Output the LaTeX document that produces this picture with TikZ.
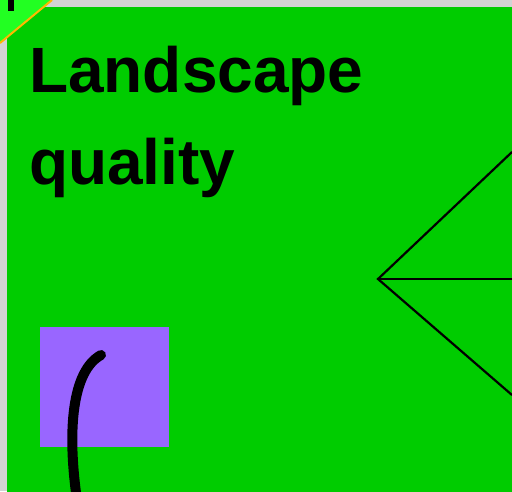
\documentclass[tikz,border=0pt]{standalone}
\usepackage{fontspec}
\setmainfont{Liberation Sans}
\usetikzlibrary{
  calc,       % coordinate calculations
  positioning % relative placement
}
\definecolor{panelgreen}{HTML}{00CC00}
\definecolor{cornergreen}{HTML}{22FF22}
\definecolor{cornerrim}{HTML}{FFB800}
\definecolor{swatch}{HTML}{9966FF}
\definecolor{backgray}{HTML}{D3D3D3}
\tikzset{
  panel/.style={
    fill=panelgreen,
    draw=none
  },
  title text/.style={
    font=\fontsize{64}{92}\selectfont\bfseries,
    align=left,
    inner sep=0pt,
    anchor=north west
  },
  fan line/.style={
    line width=2.2pt,
    color=black
  },
  stroke/.style={
    line width=10pt,
    line cap=round,
    color=black
  }
}

\begin{document}
\begin{tikzpicture}[x=1pt, y=-1pt] % pixel-like coordinates, y grows downwards
  % frame of the picture
  \useasboundingbox (0,0) rectangle (512,491);
  \clip (0,0) rectangle (512,491);
  \fill[backgray] (0,0) rectangle (512,491); % gray page behind the panel

  % green panel
  \fill[panel] (7,7) rectangle (530,510);

  % folded corner at top left
  \coordinate (K1) at (0,43);  % lower end of the rim
  \coordinate (K2) at (52,0);  % right end of the rim
  \fill[cornergreen] (0,0) -- (K1) -- (K2) -- cycle;
  \draw[cornerrim, line width=2pt] (K1) -- (K2);
  \fill[black] (8,0) rectangle (14,11); % clipped mark in the corner

  % title
  \node[title text] (title) at (29,46) {Landscape\\quality};

  % fan of three lines
  \coordinate (apex) at (378,279);
  \coordinate (upper) at (512,152);
  \coordinate (middle) at (512,279);
  \coordinate (lower) at (512,395);
  \draw[fan line] (upper) -- (apex) -- (lower);
  \draw[fan line] (apex) -- (middle);

  % lavender square with the curved stroke
  \fill[swatch] (40,327) rectangle (169,447);
  \coordinate (s1) at (101,355);
  \coordinate (s2) at (77,500);
  \draw[stroke] (s1) .. controls (72,371) and (67,430) .. (s2);

\end{tikzpicture}
\end{document}
